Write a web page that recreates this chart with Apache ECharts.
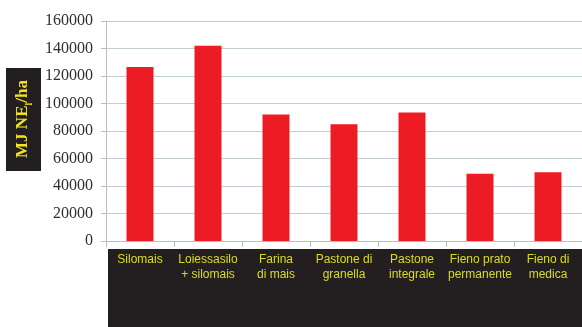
<!DOCTYPE html>
<html>
<head>
<meta charset="utf-8">
<script src="https://cdn.jsdelivr.net/npm/echarts@6/dist/echarts.min.js"></script>
<style>
html,body{margin:0;padding:0;background:#fff;}
#chart{width:582px;height:327px;}
</style>
</head>
<body>
<div id="chart"></div>
<script>
var categories = ['Silomais', 'Loiessasilo\n+ silomais', 'Farina\ndi mais', 'Pastone di\ngranella', 'Pastone\nintegrale', 'Fieno prato\npermanente', 'Fieno di\nmedica'];
var values = [126500, 142000, 92000, 85000, 93500, 49000, 50000];
var yTicks = [0, 20000, 40000, 60000, 80000, 100000, 120000, 140000, 160000];

var chartDom = document.getElementById('chart');
var myChart = echarts.init(chartDom);

var option = {
    animation: false,
    backgroundColor: '#fff',
    grid: { left: 106, right: 0, top: 21, bottom: 86 },
    graphic: [
        // black box under the category labels
        { type: 'rect', z: -1, shape: { x: 108, y: 249, width: 474, height: 78 }, style: { fill: '#231f20' } },
        // y axis title box
        { type: 'rect', shape: { x: 6, y: 68, width: 35, height: 103 }, style: { fill: '#231f20' } },
        {
            type: 'text', x: 23, y: 119, rotation: Math.PI / 2,
            style: {
                text: '{a|MJ NE}{s|l}{a|/ha}',
                align: 'center', verticalAlign: 'middle',
                rich: {
                    a: { fontFamily: 'Liberation Serif', fontWeight: 'bold', fontSize: 17, fill: '#f2e21e' },
                    s: { fontFamily: 'Liberation Serif', fontWeight: 'bold', fontSize: 10, fill: '#f2e21e', padding: [12, 0, 0, 0] }
                }
            }
        }
    ],
    xAxis: {
        type: 'category',
        data: categories,
        axisLine: { lineStyle: { color: '#b8bcc4' } },
        axisTick: { show: true, length: 6, lineStyle: { color: '#b8bcc4' } },
        axisLabel: {
            color: '#dcdc1e', fontFamily: 'Liberation Sans', fontSize: 12,
            lineHeight: 15, margin: 11, interval: 0
        }
    },
    yAxis: {
        type: 'value',
        min: yTicks[0],
        max: yTicks[yTicks.length - 1],
        interval: 20000,
        axisLine: { show: true, lineStyle: { color: '#b8bcc4' } },
        axisTick: { show: true, length: 5, lineStyle: { color: '#b8bcc4' } },
        splitLine: { lineStyle: { color: '#c4ccd6' } },
        axisLabel: {
            color: '#2e2e2e', fontFamily: 'Liberation Serif', fontSize: 16, margin: 13,
            formatter: function (v) { return String(v); }
        }
    },
    series: [{
        type: 'bar',
        data: values,
        barWidth: 27,
        itemStyle: { color: '#ed1c24' }
    }]
};

myChart.setOption(option);
</script>
</body>
</html>
